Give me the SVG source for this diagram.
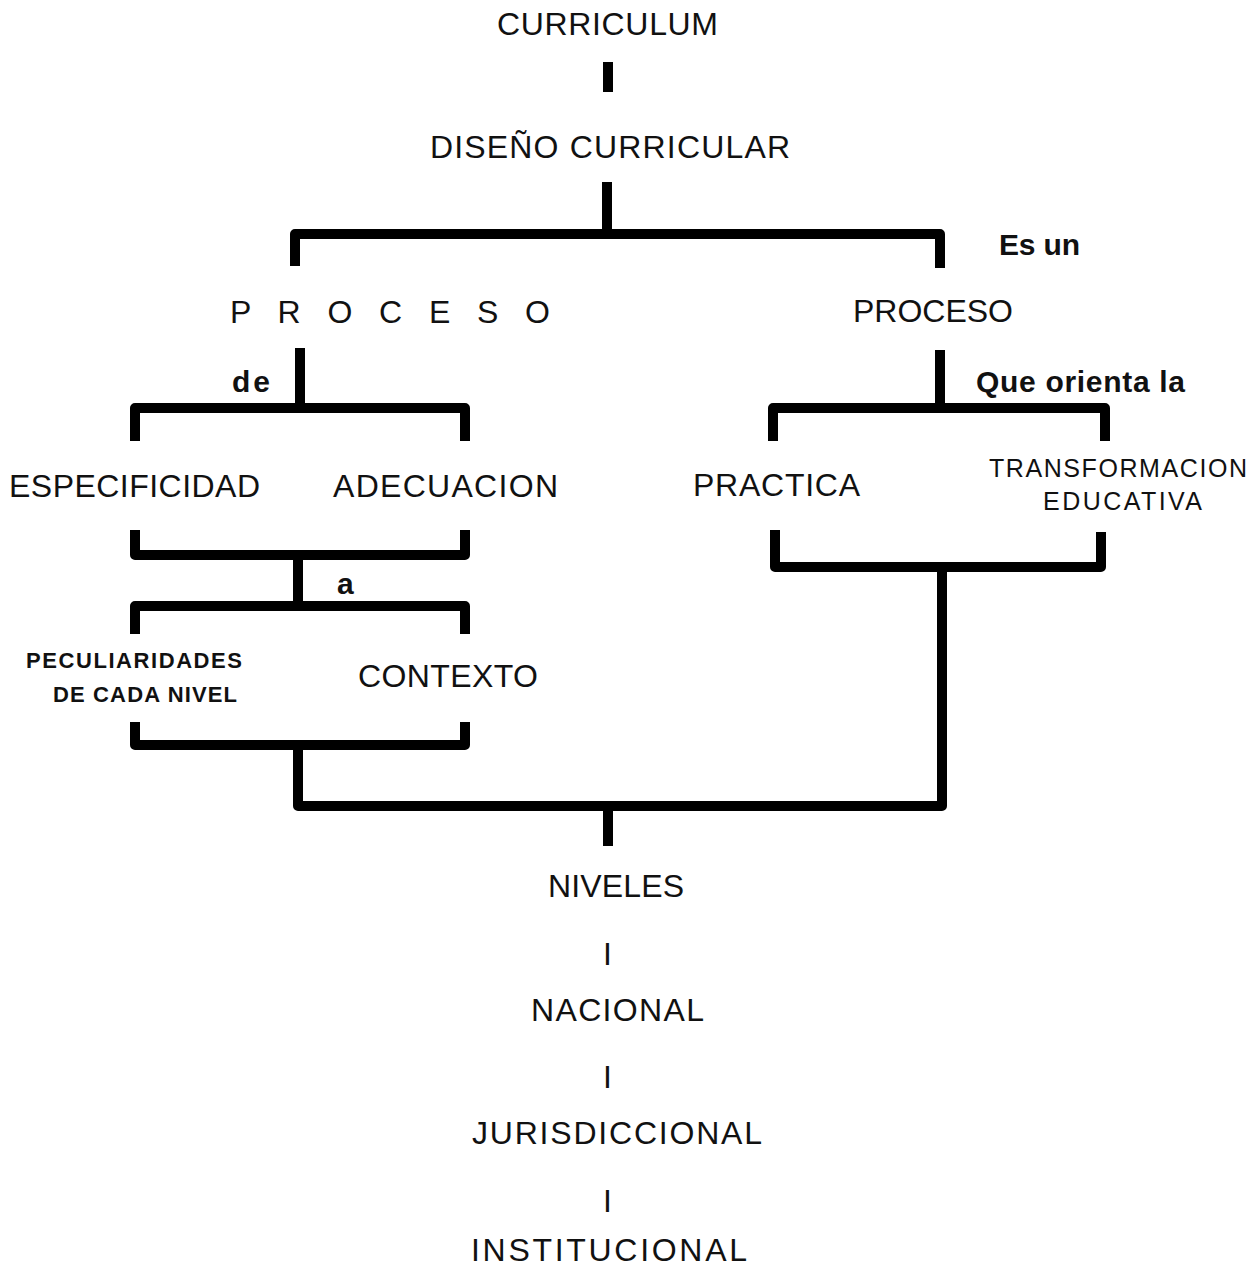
<svg xmlns="http://www.w3.org/2000/svg" width="1260" height="1269" viewBox="0 0 1260 1269">
  <style>
    .t { font-family: "Liberation Sans", Arial, sans-serif; font-size: 32px; fill: #111; }
    .s { font-family: "Liberation Sans", Arial, sans-serif; font-size: 25px; fill: #111; }
    .b { font-family: "Liberation Sans", Arial, sans-serif; font-size: 30px; font-weight: bold; fill: #111; }
    .bs { font-family: "Liberation Sans", Arial, sans-serif; font-size: 22px; font-weight: bold; fill: #111; }
    .c { fill: none; stroke: #000; stroke-width: 10; stroke-linejoin: round; stroke-linecap: butt; }
  </style>
  <rect width="1260" height="1269" fill="#fff"/>

  <g id="connectors">
    <path class="c" d="M608 62 V92"/>
    <path class="c" d="M607 182 V234"/>
    <path class="c" d="M295 266 V234 H940 V268"/>
    <path class="c" d="M300 348 V408"/>
    <path class="c" d="M135 441 V408 H465 V441"/>
    <path class="c" d="M135 530 V555 H465 V530"/>
    <path class="c" d="M298 555 V606"/>
    <path class="c" d="M135 634 V606 H465 V634"/>
    <path class="c" d="M135 722 V745 H465 V722"/>
    <path class="c" d="M298 745 V806 H942 V567"/>
    <path class="c" d="M940 350 V408"/>
    <path class="c" d="M773 441 V408 H1105 V441"/>
    <path class="c" d="M775 530 V567 H1101 V532"/>
    <path class="c" d="M608 806 V846"/>
  </g>

  <g id="curriculum"><text class="t" x="497" y="35" textLength="221">CURRICULUM</text></g>
  <g id="diseno"><text class="t" x="430" y="158" textLength="360">DISEÑO  CURRICULAR</text></g>
  <g id="es-un"><text class="b" x="999" y="255" textLength="81">Es un</text></g>
  <g id="proceso-left"><text class="t" x="230" y="323" textLength="320">P R O C E S O</text></g>
  <g id="proceso-right"><text class="t" x="853" y="322" textLength="160">PROCESO</text></g>
  <g id="de"><text class="b" x="232" y="392" textLength="38">de</text></g>
  <g id="que-orienta"><text class="b" x="976" y="392" textLength="209">Que orienta la</text></g>
  <g id="especificidad"><text class="t" x="9" y="497" textLength="251">ESPECIFICIDAD</text></g>
  <g id="adecuacion"><text class="t" x="333" y="497" textLength="225">ADECUACION</text></g>
  <g id="practica"><text class="t" x="693" y="496" textLength="167">PRACTICA</text></g>
  <g id="transformacion">
    <text class="s" x="989" y="477" textLength="258">TRANSFORMACION</text>
    <text class="s" x="1043" y="510" textLength="159">EDUCATIVA</text>
  </g>
  <g id="a"><text class="b" x="337" y="594">a</text></g>
  <g id="peculiaridades">
    <text class="bs" x="26" y="668" textLength="216">PECULIARIDADES</text>
    <text class="bs" x="53" y="702" textLength="184">DE  CADA  NIVEL</text>
  </g>
  <g id="contexto"><text class="t" x="358" y="687" textLength="180">CONTEXTO</text></g>
  <g id="niveles"><text class="t" x="548" y="897" textLength="136">NIVELES</text></g>
  <g id="sep1"><text class="t" x="603" y="965">I</text></g>
  <g id="nacional"><text class="t" x="531" y="1021" textLength="173">NACIONAL</text></g>
  <g id="sep2"><text class="t" x="603" y="1088">I</text></g>
  <g id="jurisdiccional"><text class="t" x="472" y="1144" textLength="290">JURISDICCIONAL</text></g>
  <g id="sep3"><text class="t" x="603" y="1212">I</text></g>
  <g id="institucional"><text class="t" x="471" y="1261" textLength="276">INSTITUCIONAL</text></g>
</svg>
